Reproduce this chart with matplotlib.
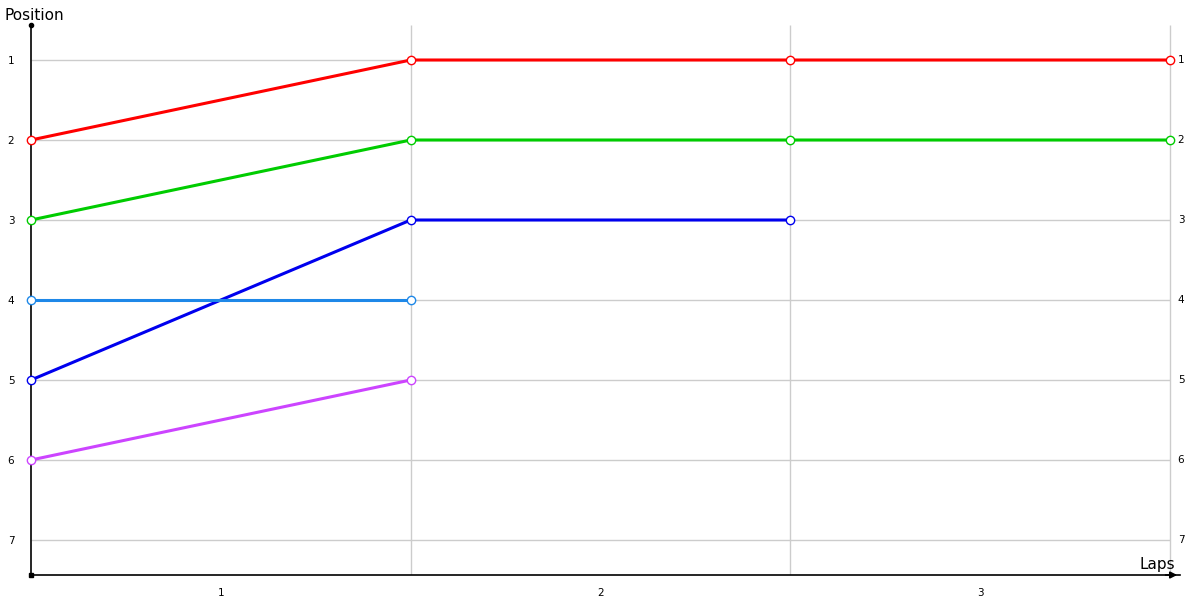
import matplotlib
matplotlib.use('Agg')
import matplotlib.pyplot as plt

# Данные: позиции гонщиков по кругам
laps = [0, 1, 2, 3]
lap_labels = ['1', '2', '3']
positions = [1, 2, 3, 4, 5, 6, 7]

red = [2, 1, 1, 1]
green = [3, 2, 2, 2]
blue = [5, 3, 3]
light_blue = [4, 4]
purple = [6, 5]

series = [
    (red, '#ff0000'),
    (green, '#00cc00'),
    (blue, '#0000ee'),
    (light_blue, '#1e88e8'),
    (purple, '#cc44ff'),
]

fig = plt.figure(figsize=(12, 6), dpi=100)
ax = fig.add_axes([31 / 1200, 25 / 600, 1149 / 1200, 550 / 600])

ax.set_xlim(0, 3.026)
ax.set_ylim(7.4375, 0.5625)

# Сетка
ax.hlines(positions, 0, 3, colors='#cccccc', lw=1, zorder=1)
ax.vlines(laps[1:], 0.5625, 7.4375, colors='#cccccc', lw=1, zorder=1)

# Линии
for vals, col in series:
    ax.plot(laps[:len(vals)], vals, color=col, lw=2.2, marker='o', ms=6,
            mfc='white', mec=col, mew=1.0, zorder=3, clip_on=False)

# Оси
for s in ['top', 'right']:
    ax.spines[s].set_visible(False)
ax.spines['left'].set_linewidth(1.2)
ax.spines['bottom'].set_linewidth(1.2)
ax.plot([0], [0.5625], 'ko', ms=3, clip_on=False, zorder=5)
ax.plot([0], [7.4375], 'ks', ms=3, clip_on=False, zorder=5)
ax.annotate('', xy=(1.0, 0), xycoords='axes fraction', xytext=(0.985, 0),
            arrowprops=dict(arrowstyle='-|>', color='black', lw=1.2,
                            mutation_scale=10))

ax.set_xticks([0.5, 1.5, 2.5])
ax.set_xticklabels(lap_labels)
ax.set_yticks(positions)
ax.set_yticklabels([str(p) for p in positions])
ax.tick_params(length=0, labelsize=7.5, pad=9)
ax.tick_params(axis='y', pad=12)

for p in positions:
    ax.text(3.02, p, str(p), fontsize=7.5, va='center', ha='left')

fig.text(4 / 1200, 1 - 15 / 600, 'Position', fontsize=11, va='center', ha='left')
fig.text(1175 / 1200, 1 - 564 / 600, 'Laps', fontsize=11, va='center', ha='right')

fig.savefig('out.png', dpi=100)
